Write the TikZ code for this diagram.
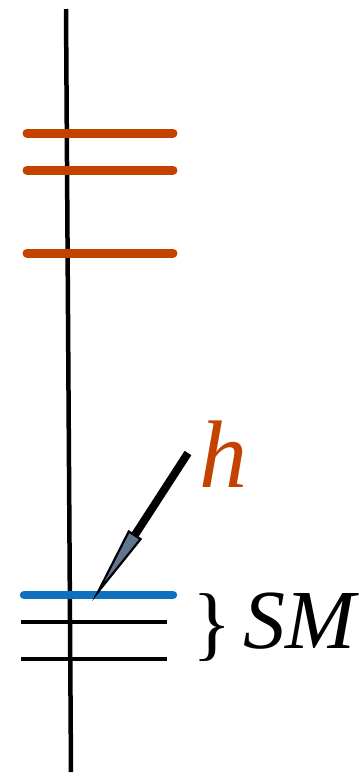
\documentclass[tikz,border=0pt]{standalone}
\usepackage{fontspec}
\setmainfont{Liberation Serif}
\definecolor{lvorange}{RGB}{196,66,0}
\definecolor{lvblue}{RGB}{16,112,192}
\definecolor{headfill}{RGB}{96,118,142}
\begin{document}
\begin{tikzpicture}[x=1pt,y=-1pt,
  axis/.style={line width=4.5pt},
  excited/.style={line width=9pt,lvorange,line cap=round},
  higgs/.style={line width=8.5pt,lvblue,line cap=round},
  smlevel/.style={line width=4.5pt},
  lbl/.style={inner sep=0pt,anchor=base west}]
\useasboundingbox (0,0) rectangle (364,777);
% axis
\coordinate (top) at (66,9);
\coordinate (bot) at (71,772);
\draw[axis] (top) -- (bot);
% orange levels
\foreach \y/\n in {133/o1,170/o2,253/o3}{
  \coordinate (\n l) at (27,\y); \coordinate (\n r) at (173,\y);
  \draw[excited] (\n l) -- (\n r);}
% blue level
\coordinate (bl) at (24,595); \coordinate (br) at (173,595);
\draw[higgs] (bl) -- (br);
% black SM levels
\foreach \y/\n in {622/s1,659/s2}{
  \coordinate (\n l) at (21,\y); \coordinate (\n r) at (167,\y);
  \draw[smlevel] (\n l) -- (\n r);}
% arrow
\coordinate (astart) at (188,453);
\coordinate (abase) at (134.7,535.3);
\coordinate (hl) at (128.8,531.5);
\coordinate (hr) at (140.6,539.1);
\coordinate (tip) at (98,592);
\draw[line width=8pt] (astart) -- (abase);
\draw[line width=2.2pt,fill=headfill,line join=miter] (hl) -- (hr) -- (tip) -- cycle;
% labels
\node[lbl,text=lvorange] (h) at (199,487) {\fontsize{96}{96}\selectfont\itshape h};
\node[lbl] (brace) at (192,650) {\fontsize{82}{82}\selectfont \}};
\node[lbl] (sm) at (243,648) {\fontsize{84}{84}\selectfont\itshape SM};
\end{tikzpicture}
\end{document}
